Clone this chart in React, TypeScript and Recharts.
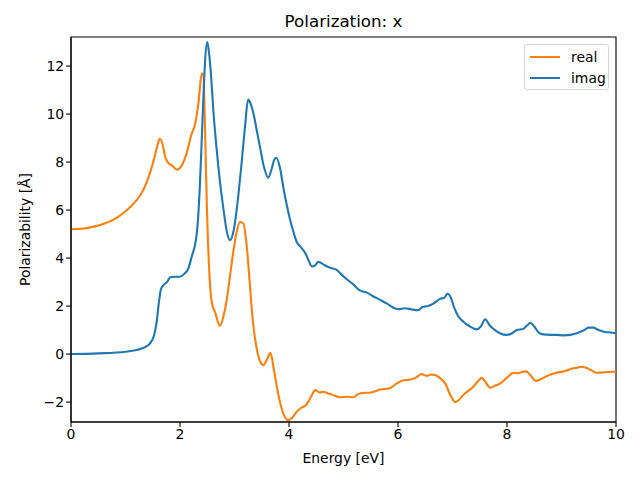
import { LineChart, Line, XAxis, YAxis, ReferenceArea, Label } from "recharts";

const realEnergy = [
  0, 0.2, 0.4, 0.6, 0.8, 1.0, 1.2, 1.33, 1.45, 1.52, 1.58, 1.63, 1.68, 1.73, 1.78, 1.86, 1.94,
  2.03, 2.12, 2.21, 2.28, 2.34, 2.4, 2.43, 2.46, 2.49, 2.53, 2.58, 2.65, 2.73, 2.8, 2.86, 2.92,
  2.98, 3.04, 3.1, 3.16, 3.22, 3.28, 3.34, 3.41, 3.47, 3.53, 3.6, 3.66, 3.72, 3.78, 3.83, 3.9,
  3.98, 4.06, 4.14, 4.22, 4.32, 4.4, 4.48, 4.56, 4.63, 4.7, 4.8, 4.94, 5.06, 5.18, 5.26, 5.36,
  5.5, 5.67, 5.85, 5.96, 6.07, 6.25, 6.35, 6.43, 6.49, 6.54, 6.61, 6.68, 6.76, 6.86, 6.96, 7.05,
  7.12, 7.2, 7.38, 7.48, 7.54, 7.6, 7.69, 7.8, 7.9, 8.0, 8.12, 8.21, 8.3, 8.35, 8.42, 8.53, 8.62,
  8.73, 8.91, 9.05, 9.16, 9.28, 9.37, 9.45, 9.55, 9.65, 9.8, 10.0,
];
const realValues = [
  5.2, 5.22, 5.3, 5.43, 5.62, 5.95, 6.4, 6.85, 7.55, 8.1, 8.65, 8.97, 8.75, 8.2, 7.98, 7.85, 7.68,
  7.85, 8.35, 9.15, 9.6, 10.5, 11.7, 11.6, 9.3, 6.4, 3.8, 2.2, 1.7, 1.17, 1.6, 2.3, 3.3,
  4.3, 5.1, 5.5, 5.45, 4.6, 2.95, 1.3, 0.2, -0.3, -0.46, -0.2, 0.05, -0.6, -1.4, -1.95, -2.5,
  -2.75, -2.65, -2.4, -2.25, -2.1, -1.8, -1.5, -1.6, -1.57, -1.62, -1.7, -1.8, -1.78, -1.8, -1.68, -1.62,
  -1.6, -1.48, -1.42, -1.25, -1.11, -1.05, -0.95, -0.83, -0.88, -0.9, -0.85, -0.87, -0.98, -1.2, -1.7, -2.0,
  -1.9, -1.7, -1.36, -1.1, -0.99, -1.15, -1.4, -1.3, -1.19, -0.98, -0.78, -0.8, -0.73, -0.72, -0.85, -1.12, -1.05,
  -0.92, -0.78, -0.72, -0.63, -0.57, -0.53, -0.57, -0.68, -0.78, -0.76, -0.73,
];

const imagEnergy = [
  0, 0.5, 1.0, 1.2, 1.35, 1.45, 1.52, 1.57, 1.61, 1.65, 1.7, 1.76, 1.82, 1.9, 2.0, 2.08, 2.15,
  2.22, 2.28, 2.32, 2.36, 2.4, 2.43, 2.46, 2.5, 2.53, 2.57, 2.61, 2.67, 2.73, 2.8, 2.86, 2.92,
  2.97, 3.01, 3.07, 3.13, 3.19, 3.25, 3.3, 3.35, 3.41, 3.47, 3.54, 3.62, 3.68, 3.73, 3.77, 3.83,
  3.9, 3.96, 4.02, 4.08, 4.14, 4.22, 4.3, 4.36, 4.42, 4.48, 4.54, 4.62, 4.69, 4.8, 4.88, 4.97,
  5.06, 5.18, 5.3, 5.43, 5.55, 5.67, 5.8, 5.9, 6.0, 6.13, 6.25, 6.37, 6.45, 6.55, 6.65, 6.77,
  6.85, 6.91, 6.96, 7.03, 7.1, 7.2, 7.32, 7.44, 7.52, 7.6, 7.68, 7.78, 7.88, 7.99, 8.08, 8.18,
  8.3, 8.37, 8.43, 8.5, 8.58, 8.66, 8.8, 8.91, 9.05, 9.16, 9.28, 9.4, 9.5, 9.58, 9.68, 9.8, 9.9, 10.0,
];
const imagValues = [
  0, 0.03, 0.1, 0.17, 0.28, 0.45, 0.75, 1.3, 2.1, 2.7, 2.88, 3.0, 3.2, 3.22, 3.22, 3.35, 3.55,
  4.1, 4.6, 5.3, 6.8, 9.0, 10.7, 12.2, 13.0, 12.6, 11.6, 10.2, 8.6, 7.25, 6.0, 5.1, 4.75,
  5.0, 5.5, 6.6, 7.95, 9.4, 10.6, 10.4, 10.0, 9.3, 8.6, 7.8, 7.35, 7.7, 8.1, 8.18, 7.8,
  6.9, 6.2, 5.6, 5.1, 4.68, 4.45, 4.2, 3.9, 3.65, 3.7, 3.84, 3.75, 3.66, 3.57, 3.5, 3.3,
  3.12, 2.9, 2.65, 2.56, 2.4, 2.26, 2.1, 1.95, 1.87, 1.91, 1.86, 1.83, 1.96, 2.0, 2.1, 2.3,
  2.35, 2.52, 2.4, 1.95, 1.6, 1.35, 1.15, 1.03, 1.15, 1.45, 1.2, 1.0, 0.86, 0.8, 0.85, 1.0,
  1.05, 1.2, 1.3, 1.15, 0.9, 0.82, 0.8, 0.8, 0.78, 0.8, 0.87, 0.98, 1.1, 1.1, 1.0, 0.92, 0.9, 0.87,
];

const xTicks = [0, 2, 4, 6, 8, 10];
const yTicks = [-2, 0, 2, 4, 6, 8, 10, 12];
const yDomain = [-2.83, 13.21];

const realData = realEnergy.map((e, i) => ({ e, v: realValues[i] }));
const imagData = imagEnergy.map((e, i) => ({ e, v: imagValues[i] }));

const font = "DejaVu Sans, sans-serif";
const tickStyle = { fill: "#000", fontSize: 13.9, fontFamily: font };
const fmt = (v: number) => (v < 0 ? "\u2212" + Math.abs(v) : String(v));

function LegendBox() {
  const row = (color: string, label: string) => (
    <div style={{ display: "flex", alignItems: "center", height: 21 }}>
      <div style={{ width: 30, height: 0, borderTop: `2px solid ${color}`, marginLeft: 5 }} />
      <span style={{ marginLeft: 11, fontSize: 13.9, fontFamily: font, color: "#000" }}>{label}</span>
    </div>
  );
  return (
    <div
      style={{
        position: "absolute",
        left: 524,
        top: 44,
        width: 85,
        height: 46,
        border: "1px solid #d6d6d6",
        borderRadius: 3,
        background: "rgba(255,255,255,0.8)",
        paddingTop: 1,
        boxSizing: "border-box",
      }}
    >
      {row("#ff7f0e", "real")}
      {row("#1f77b4", "imag")}
    </div>
  );
}

export default function App() {
  return (
    <div style={{ position: "absolute", left: 0, top: 0, width: 640, height: 480, background: "#fff" }}>
      <div
        style={{
          position: "absolute",
          left: 71,
          width: 545,
          top: 11,
          textAlign: "center",
          fontFamily: font,
          fontSize: 16.7,
          color: "#000",
        }}
      >
        Polarization: x
      </div>
      <LineChart width={640} height={480} margin={{ top: 37, right: 24, left: 0, bottom: 0 }}>
        <XAxis
          dataKey="e"
          type="number"
          domain={[0, 10]}
          ticks={xTicks}
          allowDataOverflow
          tick={tickStyle}
          tickSize={4.9}
          tickMargin={2}
          height={58}
          stroke="#000"
          strokeWidth={1.1}
          interval={0}
        >
          <Label value="Energy [eV]" position="insideBottom" offset={17} style={{ fill: "#000", fontSize: 13.9, fontFamily: font }} />
        </XAxis>
        <YAxis
          type="number"
          domain={yDomain}
          ticks={yTicks}
          allowDataOverflow
          tick={tickStyle}
          tickFormatter={fmt}
          tickSize={4.9}
          tickMargin={2}
          width={71}
          stroke="#000"
          strokeWidth={1.1}
          interval={0}
        >
          <Label
            value="Polarizability [Å]"
            angle={-90}
            position="insideLeft"
            offset={25}
            style={{ textAnchor: "middle", fill: "#000", fontSize: 13.9, fontFamily: font }}
          />
        </YAxis>
        <ReferenceArea x1={0} x2={10} y1={yDomain[0]} y2={yDomain[1]} fill="none" stroke="#000" strokeWidth={1.1} />
        <Line data={realData} dataKey="v" type="monotone" stroke="#ff7f0e" strokeWidth={2.1} dot={false} isAnimationActive={false} />
        <Line data={imagData} dataKey="v" type="monotone" stroke="#1f77b4" strokeWidth={2.1} dot={false} isAnimationActive={false} />
      </LineChart>
      <LegendBox />
    </div>
  );
}
